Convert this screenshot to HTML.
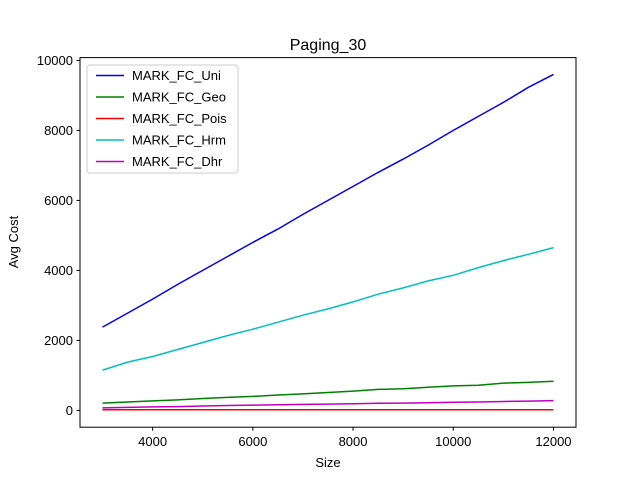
<!DOCTYPE html>
<html><head><meta charset="utf-8"><style>
body{margin:0;background:#fff;}
svg{display:block;font-family:"Liberation Sans","DejaVu Sans",sans-serif;}
</style></head><body>
<svg id="chart" width="640" height="480" viewBox="0 0 640 480">
<rect width="640" height="480" fill="#fff"/>
<text x="328" y="50" font-size="16" text-anchor="middle">Paging_30</text>
<g id="plot"></g>
<rect x="80" y="57.6" width="496" height="369.6" fill="none" stroke="#000" stroke-width="1"/>
<g id="ticks"></g>
<text x="328" y="467" font-size="13" text-anchor="middle">Size</text>
<text x="18" y="242" font-size="13" text-anchor="middle" transform="rotate(-90 18 242)">Avg Cost</text>
<g id="legend"></g>
</svg>
<script>
const sizes=[3000,3500,4000,4500,5000,5500,6000,6500,7000,7500,8000,8500,9000,9500,10000,10500,11000,11500,12000];
const uni=[2380,2780,3180,3600,4000,4400,4800,5180,5600,6000,6400,6800,7180,7580,8000,8400,8800,9230,9600];
const geo=[210,240,270,300,340,370,400,440,470,510,550,600,620,660,700,720,780,800,830];
const pois=[20,20,20,20,20,20,20,20,20,20,20,20,20,20,20,20,20,20,20];
const hrm=[1150,1380,1540,1740,1940,2140,2320,2520,2720,2900,3100,3320,3500,3700,3860,4080,4280,4460,4650];
const dhr=[70,85,100,110,125,140,150,160,170,180,190,205,210,220,230,240,255,265,280];
const seriesNames=["MARK_FC_Uni","MARK_FC_Geo","MARK_FC_Pois","MARK_FC_Hrm","MARK_FC_Dhr"];
const seriesColors=["#0000ff","#008000","#ff0000","#00bfbf","#bf00bf"];
const xTicks=[4000,6000,8000,10000,12000];
const yTicks=[0,2000,4000,6000,8000,10000];
const NS="http://www.w3.org/2000/svg";
const x0=2550,x1=12450,y0=-480,y1=10080;
function sx(v){return 80+(v-x0)/(x1-x0)*496;}
function sy(v){return 427.2-(v-y0)/(y1-y0)*369.6;}
const plot=document.getElementById('plot');
const all=[uni,geo,pois,hrm,dhr];
all.forEach((s,i)=>{
  const p=document.createElementNS(NS,'polyline');
  p.setAttribute('points',s.map((v,j)=>sx(sizes[j]).toFixed(1)+','+sy(v).toFixed(1)).join(' '));
  p.setAttribute('fill','none');p.setAttribute('stroke',seriesColors[i]);p.setAttribute('stroke-width','1.5');
  
  
  plot.appendChild(p);
});
const tk=document.getElementById('ticks');
xTicks.forEach(t=>{
  const l=document.createElementNS(NS,'line');
  l.setAttribute('x1',sx(t));l.setAttribute('x2',sx(t));l.setAttribute('y1',427.2);l.setAttribute('y2',430.7);l.setAttribute('stroke','#000');
  
  
  tk.appendChild(l);
  const tx=document.createElementNS(NS,'text');
  tx.setAttribute('x',sx(t));tx.setAttribute('y',446);tx.setAttribute('font-size','13');tx.setAttribute('text-anchor','middle');tx.textContent=t;
  
  
  tk.appendChild(tx);
});
yTicks.forEach(t=>{
  const l=document.createElementNS(NS,'line');
  l.setAttribute('x1',76.5);l.setAttribute('x2',80);l.setAttribute('y1',sy(t));l.setAttribute('y2',sy(t));l.setAttribute('stroke','#000');
  
  
  tk.appendChild(l);
  const tx=document.createElementNS(NS,'text');
  tx.setAttribute('x',73);tx.setAttribute('y',sy(t)+4.5);tx.setAttribute('font-size','13');tx.setAttribute('text-anchor','end');tx.textContent=t;
  
  
  tk.appendChild(tx);
});
const lg=document.getElementById('legend');
const box=document.createElementNS(NS,'rect');
box.setAttribute('x',87);box.setAttribute('y',65);box.setAttribute('width',151);box.setAttribute('height',108);box.setAttribute('rx',3);
box.setAttribute('fill','#fff');box.setAttribute('fill-opacity','0.8');box.setAttribute('stroke','#ccc');


lg.appendChild(box);
seriesNames.forEach((n,i)=>{
  const y=75.5+i*21.5;
  const l=document.createElementNS(NS,'line');
  l.setAttribute('x1',96);l.setAttribute('x2',124);l.setAttribute('y1',y);l.setAttribute('y2',y);l.setAttribute('stroke',seriesColors[i]);l.setAttribute('stroke-width','1.5');
  
  
  lg.appendChild(l);
  const tx=document.createElementNS(NS,'text');
  tx.setAttribute('x',132);tx.setAttribute('y',y+4.5);tx.setAttribute('font-size','13');tx.textContent=n;
  
  
  lg.appendChild(tx);
});
</script>
</body></html>
